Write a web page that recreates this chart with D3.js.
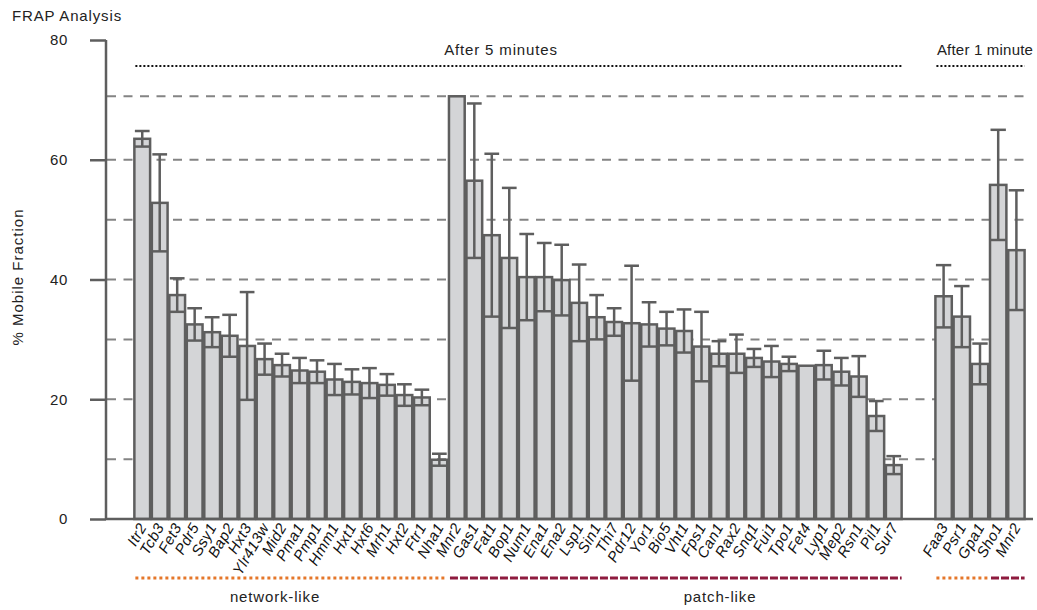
<!DOCTYPE html>
<html>
<head>
<meta charset="utf-8">
<script src="https://cdn.jsdelivr.net/npm/d3@7"></script>
<style>
  html, body { margin: 0; padding: 0; background: #fff; }
  svg { display: block; font-family: "Liberation Sans", Arial, sans-serif; }
</style>
</head>
<body>
<svg id="chart" width="1037" height="610"></svg>
<script>
// ---- Data ----
const genes5 = ["Itr2","Tcb3","Fet3","Pdr5","Ssy1","Bap2","Hxt3","Ylr413w","Mid2","Pma1","Pmp1","Hmm1","Hxt1","Hxt6","Mrh1","Hxt2","Ftr1","Nha1",
  "Mnr2","Gas1","Fat1","Bop1","Num1","Ena1","Ena2","Lsp1","Sin1","Thi7","Pdr12","Yor1","Bio5","Vht1","Fps1","Can1","Rax2","Snq1","Fui1","Tpo1","Fet4","Lyp1","Mep2","Rsn1","Pil1","Sur7"];
const values5 = [63.5,52.8,37.4,32.5,31.2,30.6,28.9,26.7,25.7,24.8,24.6,23.3,22.9,22.7,22.4,20.7,20.3,9.9,
  70.6,56.5,47.4,43.6,40.4,40.4,39.9,36.1,33.7,32.9,32.7,32.5,31.8,31.4,28.8,27.6,27.6,26.9,26.3,25.9,25.6,25.7,24.6,23.8,17.2,9.0];
const errors5 = [1.3,8.1,2.8,2.7,2.5,3.5,9.0,2.6,1.9,2.1,1.9,2.6,2.1,2.5,1.8,1.8,1.3,1.0,
  0,12.9,13.6,11.7,7.2,5.7,5.9,6.4,3.7,2.3,9.6,3.7,2.8,3.6,5.8,2.1,3.2,1.5,2.6,1.2,0,2.4,2.3,3.4,2.5,1.5];
const class5 = Array(18).fill("network-like").concat(Array(26).fill("patch-like"));

const genes1 = ["Faa3","Psr1","Gpa1","Sho1","Mnr2"];
const values1 = [37.2,33.8,25.9,55.8,44.9];
const errors1 = [5.2,5.1,3.4,9.2,10.0];
const class1 = ["network-like","network-like","network-like","patch-like","patch-like"];

const yTicks = [0,20,40,60,80];
const gridValues = [10,20,30,40,50,60,70.6];
const groupTitles = ["After 5 minutes","After 1 minute"];
const classNames = ["network-like","patch-like"];

// ---- Layout ----
const svg = d3.select("#chart");
const axisColor = "#5e5e5e";
const barFill = "#d4d5d7";
const textColor = "#222";
const classColor = {"network-like": "#e5772a", "patch-like": "#8e1b3e"};
const classDash = {"network-like": "3,3", "patch-like": "8,2"};

const y = d3.scaleLinear().domain([0, 80]).range([519, 40]);
const x5 = d3.scaleBand().domain(genes5.map((g,i)=>i)).range([133.5, 902.5]).paddingInner(0.1).paddingOuter(0.05);
const x1 = d3.scaleBand().domain(genes1.map((g,i)=>i)).range([934.5, 1025.5]).paddingInner(0.1).paddingOuter(0.05);

function label(x, yy, t, anchor, ls) {
  return svg.append("text").attr("x", x).attr("y", yy).attr("text-anchor", anchor || "start")
    .attr("font-size", 15).attr("letter-spacing", ls === undefined ? 0.85 : ls).attr("fill", textColor).text(t);
}

// Title
label(12, 21, "FRAP Analysis");

// Gridlines
svg.append("g").selectAll("line").data(gridValues).join("line")
  .attr("x1", 107).attr("x2", 1031)
  .attr("y1", d => y(d)).attr("y2", d => y(d))
  .attr("stroke", "#848484").attr("stroke-width", 2).attr("stroke-dasharray", "9,7.5");

// Y axis
const yAxis = d3.axisLeft(y).tickValues(yTicks).tickSize(16).tickPadding(22).tickFormat(d3.format("d"));
const gy = svg.append("g").attr("transform", "translate(106,0)").call(yAxis);
gy.select(".domain").attr("stroke", axisColor).attr("stroke-width", 2.5).attr("d", `M0,${y(80)}V${y(0)}`);
gy.selectAll(".tick line").attr("stroke", axisColor).attr("stroke-width", 2.5);
gy.selectAll(".tick text").attr("font-size", 15).attr("letter-spacing", 0.6).attr("fill", textColor)
  .attr("font-family", "Liberation Sans, Arial, sans-serif");

// Y label
svg.append("text").attr("transform", "translate(23,277) rotate(-90)")
  .attr("text-anchor", "middle").attr("font-size", 15).attr("letter-spacing", 1.0)
  .attr("fill", textColor).text("% Mobile Fraction");

// Bars + error bars
function drawGroup(genes, values, errors, classes, xs) {
  const g = svg.append("g");
  const idx = genes.map((d,i)=>i);
  g.selectAll("rect").data(idx).join("rect")
    .attr("x", i => xs(i)).attr("width", xs.bandwidth())
    .attr("y", i => y(values[i])).attr("height", i => y(0) - y(values[i]))
    .attr("fill", barFill).attr("stroke", axisColor).attr("stroke-width", 2.5);
  const eb = g.selectAll("g.eb").data(idx.filter(i => errors[i] > 0)).join("g").attr("class","eb");
  const cx = i => xs(i) + xs.bandwidth()/2;
  const hw = xs.bandwidth()/2 - 0.5;
  eb.append("line").attr("x1", cx).attr("x2", cx)
    .attr("y1", i => y(values[i] + errors[i])).attr("y2", i => y(values[i] - errors[i]))
    .attr("stroke", axisColor).attr("stroke-width", 2.5);
  eb.append("line").attr("x1", i => cx(i)-hw).attr("x2", i => cx(i)+hw)
    .attr("y1", i => y(values[i] + errors[i])).attr("y2", i => y(values[i] + errors[i]))
    .attr("stroke", axisColor).attr("stroke-width", 2.5);
  eb.append("line").attr("x1", i => cx(i)-hw).attr("x2", i => cx(i)+hw)
    .attr("y1", i => y(values[i] - errors[i])).attr("y2", i => y(values[i] - errors[i]))
    .attr("stroke", axisColor).attr("stroke-width", 2.5);
  // tick labels
  g.selectAll("text.lbl").data(idx).join("text").attr("class","lbl")
    .attr("transform", i => `translate(${cx(i)+5},527) rotate(-60)`)
    .attr("text-anchor", "end").attr("font-size", 15).attr("letter-spacing", 0.4)
    .attr("font-style", "italic").attr("fill", "#111")
    .text(i => genes[i]);
  // class lines
  classNames.forEach(c => {
    const members = idx.filter(i => classes[i] === c);
    if (!members.length) return;
    const x0 = xs(members[0]) + 1;
    const xe = xs(members[members.length-1]) + xs.bandwidth();
    g.append("line").attr("x1", x0).attr("x2", xe).attr("y1", 578).attr("y2", 578)
      .attr("stroke", classColor[c]).attr("stroke-width", 3).attr("stroke-dasharray", classDash[c]);
  });
  return g;
}
drawGroup(genes5, values5, errors5, class5, x5);
drawGroup(genes1, values1, errors1, class1, x1);

// X axis baseline
svg.append("line").attr("x1", 106).attr("x2", 1033).attr("y1", y(0)).attr("y2", y(0))
  .attr("stroke", axisColor).attr("stroke-width", 2.5);

// Group titles with dotted lines
[[x5, genes5.length, groupTitles[0], 501, 0.85], [x1, genes1.length, groupTitles[1], 985, 0.2]].forEach(([xs, n, t, tx, ls]) => {
  const a = xs(0) + 1, b = xs(n-1) + xs.bandwidth();
  svg.append("line").attr("x1", a).attr("x2", b).attr("y1", 66).attr("y2", 66)
    .attr("stroke", "#111").attr("stroke-width", 2).attr("stroke-dasharray", "2,2");
  label(tx, 55, t, "middle", ls);
});

// Class labels
label(275, 602, classNames[0], "middle");
label(720, 602, classNames[1], "middle");
</script>
</body>
</html>
